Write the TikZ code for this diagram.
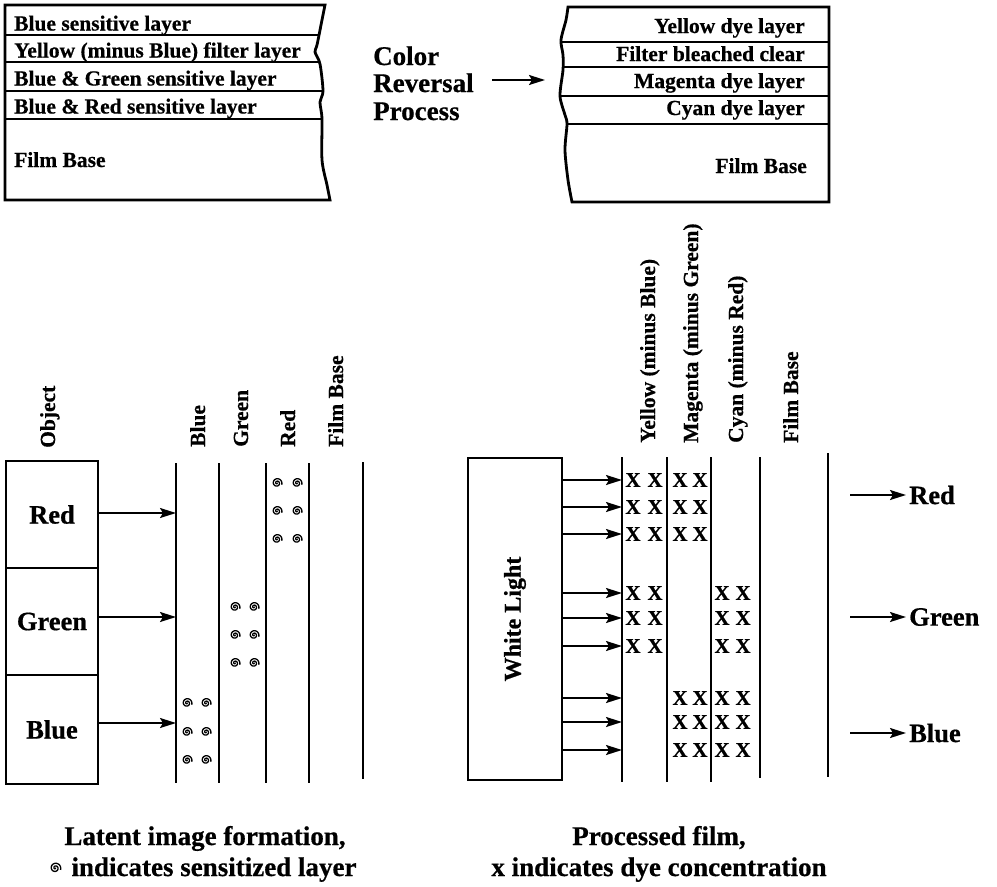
\documentclass[tikz,border=0pt]{standalone}
\usepackage{fontspec}
\setmainfont{Liberation Serif}[BoldFeatures={FakeBold=0.6}]
\usetikzlibrary{arrows.meta,calc}
\begin{document}
\begin{tikzpicture}[x=1pt,y=-1pt,
  fz/.style={font=\fontsize{#1}{#1}\selectfont\bfseries},
  ln/.style={line width=2.4pt},
  bx/.style={line width=2.8pt},
  arr/.style={line width=2pt,-{Stealth[length=16pt,width=10pt,inset=3pt]}},
  lbl/.style={fz=21.5, inner sep=0pt, anchor=base west},
  rlbl/.style={fz=21.5, inner sep=0pt, rotate=90, anchor=base west},
  swirl/.pic={\draw[line width=1.3pt] plot[domain=0:740,samples=80,smooth] (\x:{0.0068*\x});},
  dye/.style={fz=21, inner sep=0pt},
  big/.style={fz=26.5, inner sep=0pt}
]
\useasboundingbox (0,0) rectangle (997,887);

% ---------- top-left film stack ----------
\def\leftstack{(5,5) -- plot[smooth] coordinates {(325,5) (322,20) (317,45) (315,52) (320,64) (323,91) (320,102) (322,119) (322,160) (327,185) (330,200)} -- (5,200) -- cycle}
\begin{scope}
  \clip \leftstack;
  \foreach \yy in {35,62,91,119} \draw[ln] (0,\yy) -- (340,\yy);
\end{scope}
\draw[bx] \leftstack;
\node[lbl] (tl1) at (14,30.5) {Blue sensitive layer};
\node[lbl] (tl2) at (14,57.5) {Yellow (minus Blue) filter layer};
\node[lbl] (tl3) at (14,85.5) {Blue \& Green sensitive layer};
\node[lbl] (tl4) at (14,113.5) {Blue \& Red sensitive layer};
\node[lbl] (tl5) at (14,167) {Film Base};

% ---------- process label ----------
\node[fz=27, inner sep=0pt, anchor=base west] (crp1) at (373,65) {Color};
\node[fz=27, inner sep=0pt, anchor=base west] (crp2) at (373,92) {Reversal};
\node[fz=27, inner sep=0pt, anchor=base west] (crp3) at (373,120) {Process};
\coordinate (pa) at (492,80);
\coordinate (pb) at (545,80);
\draw[arr] (pa) -- (pb);

% ---------- top-right film stack ----------
\def\rightstack{(829,7) -- (829,202) -- plot[smooth] coordinates {(572,202) (568,180) (565,150) (567,124) (565,115) (560,96) (563,70) (563,55) (561,40) (566,20) (568,7)} -- cycle}
\begin{scope}
  \clip \rightstack;
  \foreach \yy in {42,67,96,124} \draw[ln] (550,\yy) -- (835,\yy);
\end{scope}
\draw[bx] \rightstack;
\node[fz=21.5, inner sep=0pt, anchor=base east] (tr1) at (805,33) {Yellow dye layer};
\node[fz=21.5, inner sep=0pt, anchor=base east] (tr2) at (805,61) {Filter bleached clear};
\node[fz=21.5, inner sep=0pt, anchor=base east] (tr3) at (805,88) {Magenta dye layer};
\node[fz=21.5, inner sep=0pt, anchor=base east] (tr4) at (805,115) {Cyan dye layer};
\node[fz=21.5, inner sep=0pt, anchor=base east] (tr5) at (807,173) {Film Base};

% ---------- latent image formation ----------
\node[big, draw, bx, minimum width=92pt, minimum height=107pt] (objR) at (52,514.5) {Red};
\node[big, draw, bx, minimum width=92pt, minimum height=107pt] (objG) at (52,621.5) {Green};
\node[big, draw, bx, minimum width=92pt, minimum height=109pt] (objB) at (52,729.5) {Blue};
\node[rlbl] (lobj) at (55,448) {Object};
\node[rlbl] (lblue) at (205,447) {Blue};
\node[rlbl] (lgreen) at (248,447) {Green};
\node[rlbl] (lred) at (295,447) {Red};
\node[rlbl] (lfb) at (343,447) {Film Base};
\foreach \xx in {176,219,266,309} \draw[ln] (\xx,463) -- (\xx,783);
\draw[ln] (363,462) -- (363,779);
\coordinate (inR) at (176,513);
\coordinate (inG) at (176,617);
\coordinate (inB) at (176,723);
\draw[arr] (objR.east |- inR) -- (inR);
\draw[arr] (objG.east |- inG) -- (inG);
\draw[arr] (objB.east |- inB) -- (inB);
\foreach \yy in {703,732,760} { \pic at (187,\yy) {swirl}; \pic at (206,\yy) {swirl}; }
\foreach \yy in {607,635,663} { \pic at (235,\yy) {swirl}; \pic at (254,\yy) {swirl}; }
\foreach \yy in {483,511,539} { \pic at (277,\yy) {swirl}; \pic at (297,\yy) {swirl}; }

% ---------- processed film ----------
\node[draw, bx, rotate=90, minimum width=322pt, minimum height=94pt, fz=24] (wl) at (515,619) {White Light};
\node[rlbl] (ly) at (655,443) {Yellow (minus Blue)};
\node[rlbl] (lm) at (698,443) {Magenta (minus Green)};
\node[rlbl] (lc) at (743,443) {Cyan (minus Red)};
\node[rlbl] (lfb2) at (798,443) {Film Base};
\foreach \xx in {622,667,711} \draw[ln] (\xx,457) -- (\xx,782);
\draw[ln] (760,457) -- (760,778);
\draw[ln] (828,453) -- (828,777);
\foreach \yy [count=\i] in {480,507,534,593,618,646,698,722,750} {
  \coordinate (ws\i) at (wl.south |- 0,\yy);
  \coordinate (we\i) at (622,\yy);
  \draw[arr] (ws\i) -- (we\i);
}
\foreach \yy in {480,507,534,593,618,646} { \node[dye] (xy1-\yy) at (633,\yy) {X}; \node[dye] (xy2-\yy) at (655,\yy) {X}; }
\foreach \yy in {480,507,534,698,722,750} { \node[dye] (xm1-\yy) at (680,\yy) {X}; \node[dye] (xm2-\yy) at (700,\yy) {X}; }
\foreach \yy in {593,618,646,698,722,750} { \node[dye] (xc1-\yy) at (722,\yy) {X}; \node[dye] (xc2-\yy) at (743,\yy) {X}; }

% ---------- output colours ----------
\node[big, anchor=west] (oR) at (909,495) {Red};
\node[big, anchor=west] (oG) at (909,617) {Green};
\node[big, anchor=west] (oB) at (909,733) {Blue};
\coordinate (sR) at (850,495);
\coordinate (sG) at (850,617);
\coordinate (sB) at (850,733);
\draw[arr, shorten >=3pt] (sR) -- (oR.west);
\draw[arr, shorten >=3pt] (sG) -- (oG.west);
\draw[arr, shorten >=3pt] (sB) -- (oB.west);

% ---------- captions ----------
\node[fz=27, inner sep=0pt, anchor=base] (cap1) at (205,845) {Latent image formation,};
\node[fz=27, inner sep=0pt, anchor=base] (cap2) at (214,876) {indicates sensitized layer};
\pic[scale=1.1] at ($(cap2.base west)+(-16,-8)$) {swirl};
\node[fz=27, inner sep=0pt, anchor=base] (cap3) at (659,845) {Processed film,};
\node[fz=27, inner sep=0pt, anchor=base] (cap4) at (659,876) {x indicates dye concentration};
\end{tikzpicture}
\end{document}
